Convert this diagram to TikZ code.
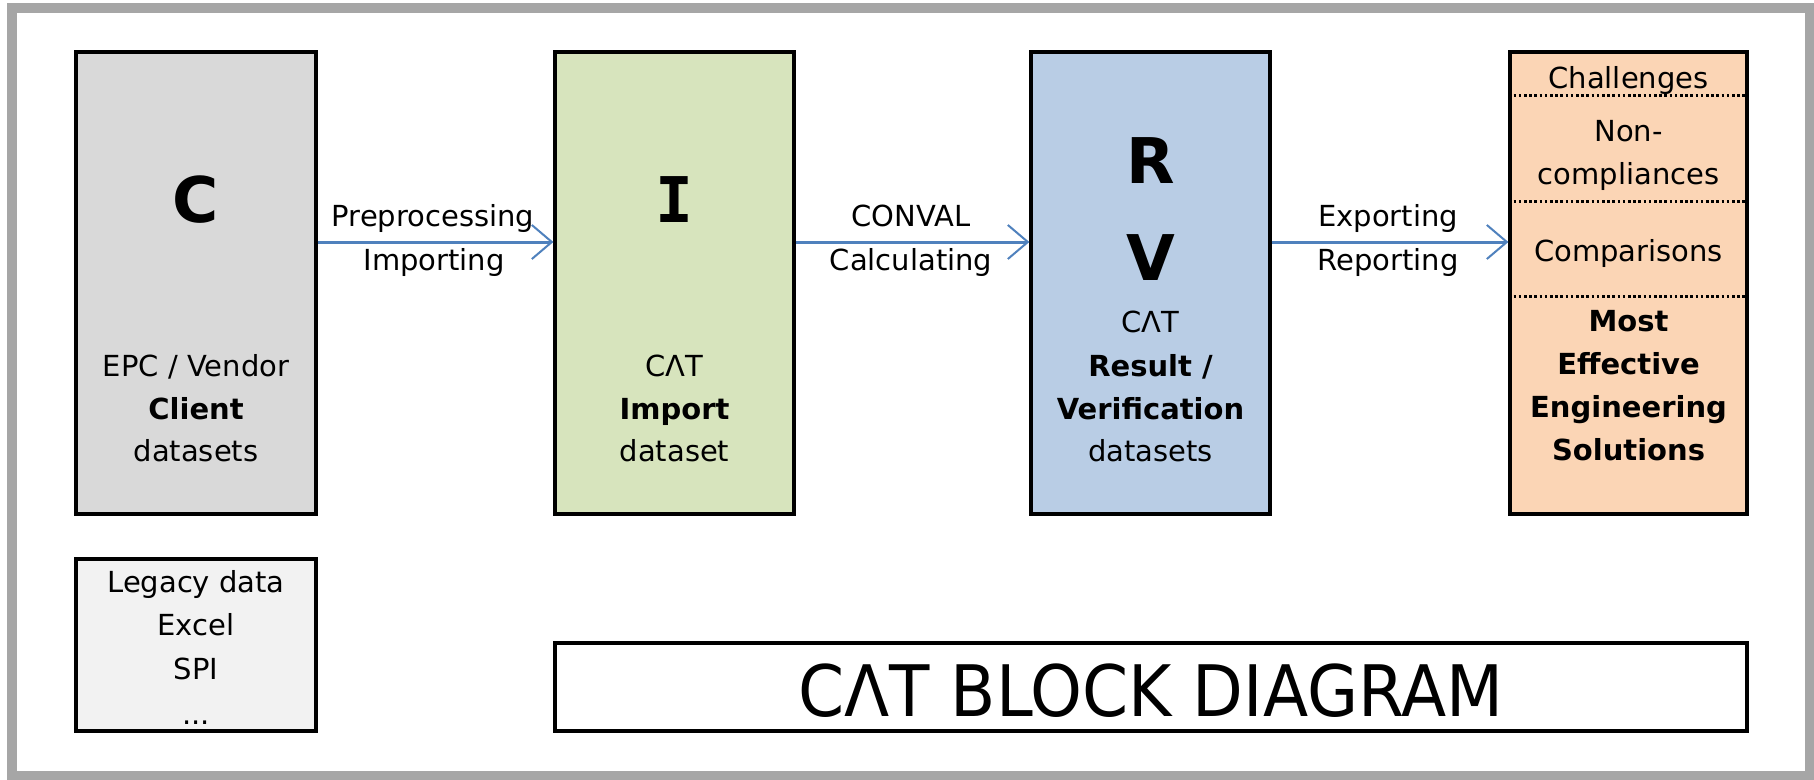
\documentclass[tikz,border=0pt]{standalone}
\usepackage{fontspec}
\setmainfont{DejaVu Sans}
\newfontfamily\serifI{DejaVu Sans Mono}
\usetikzlibrary{arrows.meta}
\definecolor{framegray}{HTML}{A6A6A6}
\definecolor{cgray}{HTML}{D9D9D9}
\definecolor{igreen}{HTML}{D7E4BD}
\definecolor{rvblue}{HTML}{B9CDE5}
\definecolor{outpeach}{HTML}{FBD5B5}
\definecolor{legacygray}{HTML}{F2F2F2}
\definecolor{arrowblue}{HTML}{4F81BD}
\begin{document}
\begin{tikzpicture}[x=1pt,y=-1pt,
  block/.style={draw=black, line width=3.2pt, inner sep=0pt, minimum width=240pt, minimum height=462pt},
  ln/.style={font=\fontsize{29}{43}\selectfont, inner sep=0pt, text height=21pt, text depth=0pt},
  lnb/.style={ln, font=\fontsize{29}{43}\selectfont\bfseries},
  big/.style={font=\fontsize{63}{63}\selectfont\bfseries, inner sep=0pt, text height=46pt, text depth=0pt},
  flow/.style={draw=arrowblue, line width=3pt, -{Straight Barb[length=20pt,width=34pt,line width=2pt]}},
  sep/.style={draw=black, line width=2.2pt, dash pattern=on 2.6pt off 2.6pt}
]
\useasboundingbox (0,0) rectangle (1814,779);
\fill[white] (0,0) rectangle (1814,779);
\draw[framegray, line width=10pt] (12,7.5) rectangle (1809.5,775.5);

% blocks
\node[block, fill=cgray] (C) at (196,283) {};
\node[block, fill=igreen, minimum width=239pt] (I) at (674.5,283) {};
\node[block, fill=rvblue, minimum width=239pt] (RV) at (1150.5,283) {};
\node[block, fill=outpeach, minimum width=237pt] (O) at (1628.5,283) {};
\node[block, fill=legacygray, minimum height=172pt] (L) at (196,645) {};
\node[block, fill=white, minimum width=1192pt, minimum height=88pt] (T) at (1151,687) {};

% dotted separators in output block
\draw[sep] ([yshift=-45pt]O.north west) -- ([yshift=-45pt]O.north east);
\draw[sep] ([yshift=-151pt]O.north west) -- ([yshift=-151pt]O.north east);
\draw[sep] ([yshift=-246pt]O.north west) -- ([yshift=-246pt]O.north east);

% arrows
\draw[flow] ([yshift=41pt]C.east) -- ([yshift=41pt]I.west);
\draw[flow] ([yshift=41pt]I.east) -- ([yshift=41pt]RV.west);
\draw[flow] ([yshift=41pt]RV.east) -- ([yshift=41pt]O.west);

% arrow labels
\node[ln] (a1) at (433,216) {Preprocessing};
\node[ln] (a2) at (434,260) {Importing};
\node[ln] (b1) at (911,216) {CONVAL};
\node[ln] (b2) at (911,260) {Calculating};
\node[ln] (c1) at (1388,216) {Exporting};
\node[ln] (c2) at (1388,260) {Reporting};

% C block
\node[big] (Cl) at (196,199) {C};
\node[ln] (C1) at (196,366) {EPC / Vendor};
\node[lnb] (C2) at (196,409) {Client};
\node[ln] (C3) at (196,451) {datasets};

% I block
\node[big] (Il) at (674.5,199) {\serifI\bfseries I};
\node[ln] (I1) at (674.5,366) {CΛT};
\node[lnb] (I2) at (674.5,409) {Import};
\node[ln] (I3) at (674.5,451) {dataset};

% RV block
\node[big] (Rl) at (1150.5,160) {R};
\node[big] (Vl) at (1150.5,257) {V};
\node[ln] (R1) at (1150.5,322) {CΛT};
\node[lnb] (R2) at (1150.5,366) {Result /};
\node[lnb] (R3) at (1150.5,409) {Verification};
\node[ln] (R4) at (1150.5,451) {datasets};

% output block
\node[ln] (O1) at (1628.5,78) {Challenges};
\node[ln] (O2) at (1628.5,131) {Non-};
\node[ln] (O3) at (1628.5,174) {compliances};
\node[ln] (O4) at (1628.5,251) {Comparisons};
\node[lnb] (O5) at (1628.5,321) {Most};
\node[lnb] (O6) at (1628.5,364) {Effective};
\node[lnb] (O7) at (1628.5,407) {Engineering};
\node[lnb] (O8) at (1628.5,450) {Solutions};

% legacy block
\node[ln] (L1) at (196,582) {Legacy data};
\node[ln] (L2) at (196,625) {Excel};
\node[ln] (L3) at (196,669) {SPI};
\node[ln] (L4) at (196,714) {...};

% title
\node[inner sep=0pt, text height=52pt, text depth=0pt, font=\fontsize{71}{71}\selectfont] (Tt) at (1151,690) {\scalebox{0.93}[1]{CΛT BLOCK DIAGRAM}};
\end{tikzpicture}
\end{document}
